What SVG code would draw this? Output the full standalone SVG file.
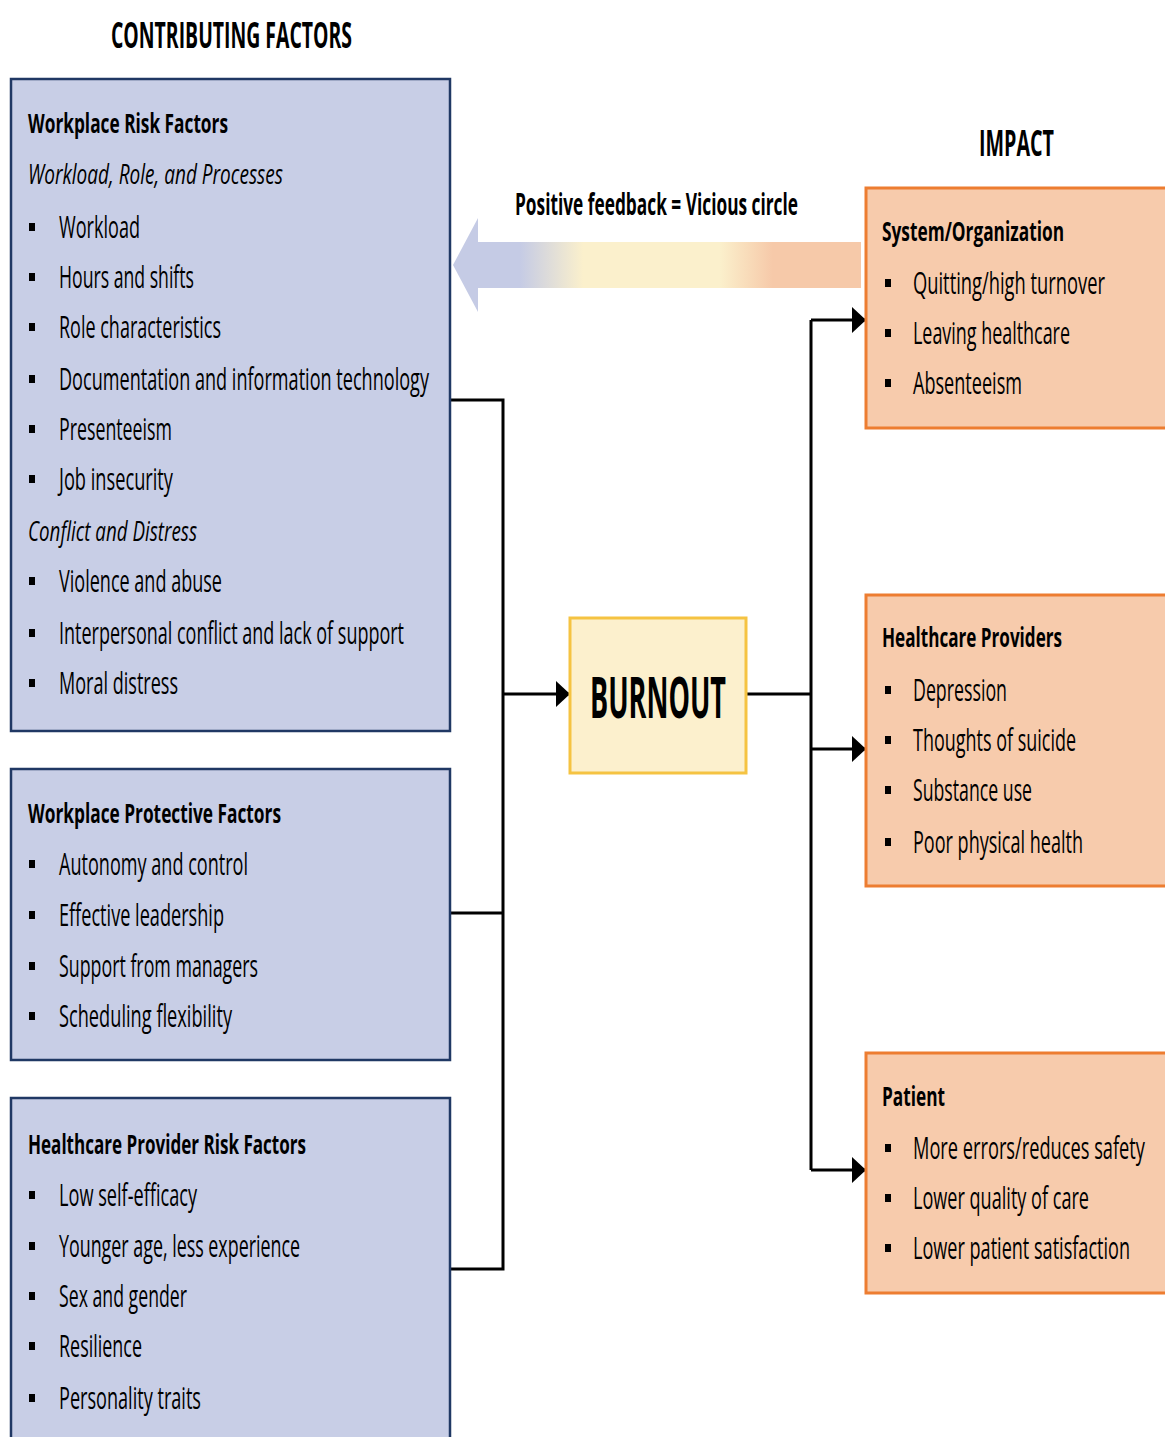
<svg xmlns="http://www.w3.org/2000/svg" width="1165" height="1437" viewBox="0 0 1165 1437">
<style>
text{font-family:"Open Sans","Liberation Sans",sans-serif;fill:#000}
.t{font-size:31px;font-weight:500}
.h{font-size:26px;font-weight:700}
.i{font-size:27px;font-style:italic;font-weight:500}
.big{font-size:35px;font-weight:700}
.lb{fill:#C8CEE6;stroke:#203864;stroke-width:2.5}
.rb{fill:#F7CBAC;stroke:#ED7D31;stroke-width:3}
.bu{fill:#000}
.cn{fill:none;stroke:#000;stroke-width:3}
</style>
<defs>
<marker id="ah" markerUnits="userSpaceOnUse" markerWidth="16" markerHeight="28" refX="14" refY="13" orient="auto">
<path d="M0,0 L14,13 L0,26 Z" fill="#000"/>
</marker>
<linearGradient id="fb" gradientUnits="userSpaceOnUse" x1="453" y1="0" x2="861" y2="0">
<stop offset="0" stop-color="#C5CBE5"/>
<stop offset="0.164" stop-color="#C5CBE5"/>
<stop offset="0.319" stop-color="#FBF0CC"/>
<stop offset="0.654" stop-color="#FBF0CC"/>
<stop offset="0.784" stop-color="#F6C9A9"/>
<stop offset="1" stop-color="#F6C9A9"/>
</linearGradient>
</defs>

<text class="big" x="111" y="48" textLength="241" lengthAdjust="spacingAndGlyphs">CONTRIBUTING FACTORS</text>
<text class="big" x="979" y="156" textLength="75" lengthAdjust="spacingAndGlyphs">IMPACT</text>

<g id="feedback">
<path d="M453,265 L478,218 L478,242 L861,242 L861,288 L478,288 L478,312 Z" fill="url(#fb)"/>
<text x="515" y="215" style="font-size:30px;font-weight:700" textLength="283" lengthAdjust="spacingAndGlyphs">Positive feedback = Vicious circle</text>
</g>

<g id="connectors">
<path class="cn" d="M450,400 H503 V1269 H450"/>
<path class="cn" d="M450,913 H503"/>
<path class="cn" d="M503,694 H570" marker-end="url(#ah)"/>
<path class="cn" d="M746,694 H811"/>
<path class="cn" d="M811,320 V1170"/>
<path class="cn" d="M811,320 H866" marker-end="url(#ah)"/>
<path class="cn" d="M811,749 H866" marker-end="url(#ah)"/>
<path class="cn" d="M811,1170 H866" marker-end="url(#ah)"/>
</g>

<g id="workplace-risk">
<rect class="lb" x="11" y="79" width="439" height="652"/>
<text class="h" x="28" y="133" textLength="200" lengthAdjust="spacingAndGlyphs">Workplace Risk Factors</text>
<text class="i" x="28" y="184" textLength="255" lengthAdjust="spacingAndGlyphs">Workload, Role, and Processes</text>
<rect class="bu" x="29" y="223" width="6" height="8"/>
<text class="t" x="59" y="238" textLength="81" lengthAdjust="spacingAndGlyphs">Workload</text>
<rect class="bu" x="29" y="273" width="6" height="8"/>
<text class="t" x="59" y="288" textLength="135" lengthAdjust="spacingAndGlyphs">Hours and shifts</text>
<rect class="bu" x="29" y="323" width="6" height="8"/>
<text class="t" x="59" y="338" textLength="162" lengthAdjust="spacingAndGlyphs">Role characteristics</text>
<rect class="bu" x="29" y="375" width="6" height="8"/>
<text class="t" x="59" y="390" textLength="370" lengthAdjust="spacingAndGlyphs">Documentation and information technology</text>
<rect class="bu" x="29" y="425" width="6" height="8"/>
<text class="t" x="59" y="440" textLength="113" lengthAdjust="spacingAndGlyphs">Presenteeism</text>
<rect class="bu" x="29" y="475" width="6" height="8"/>
<text class="t" x="59" y="490" textLength="114" lengthAdjust="spacingAndGlyphs">Job insecurity</text>
<text class="i" x="28" y="541" textLength="169" lengthAdjust="spacingAndGlyphs">Conflict and Distress</text>
<rect class="bu" x="29" y="577" width="6" height="8"/>
<text class="t" x="59" y="592" textLength="163" lengthAdjust="spacingAndGlyphs">Violence and abuse</text>
<rect class="bu" x="29" y="629" width="6" height="8"/>
<text class="t" x="59" y="644" textLength="345" lengthAdjust="spacingAndGlyphs">Interpersonal conflict and lack of support</text>
<rect class="bu" x="29" y="679" width="6" height="8"/>
<text class="t" x="59" y="694" textLength="119" lengthAdjust="spacingAndGlyphs">Moral distress</text>
</g>

<g id="workplace-protective">
<rect class="lb" x="11" y="769" width="439" height="291"/>
<text class="h" x="28" y="823" textLength="253" lengthAdjust="spacingAndGlyphs">Workplace Protective Factors</text>
<rect class="bu" x="29" y="860" width="6" height="8"/>
<text class="t" x="59" y="875" textLength="189" lengthAdjust="spacingAndGlyphs">Autonomy and control</text>
<rect class="bu" x="29" y="911" width="6" height="8"/>
<text class="t" x="59" y="926" textLength="165" lengthAdjust="spacingAndGlyphs">Effective leadership</text>
<rect class="bu" x="29" y="962" width="6" height="8"/>
<text class="t" x="59" y="977" textLength="199" lengthAdjust="spacingAndGlyphs">Support from managers</text>
<rect class="bu" x="29" y="1012" width="6" height="8"/>
<text class="t" x="59" y="1027" textLength="173" lengthAdjust="spacingAndGlyphs">Scheduling flexibility</text>
</g>

<g id="provider-risk">
<rect class="lb" x="11" y="1098" width="439" height="350"/>
<text class="h" x="28" y="1154" textLength="278" lengthAdjust="spacingAndGlyphs">Healthcare Provider Risk Factors</text>
<rect class="bu" x="29" y="1191" width="6" height="8"/>
<text class="t" x="59" y="1206" textLength="138" lengthAdjust="spacingAndGlyphs">Low self-efficacy</text>
<rect class="bu" x="29" y="1242" width="6" height="8"/>
<text class="t" x="59" y="1257" textLength="241" lengthAdjust="spacingAndGlyphs">Younger age, less experience</text>
<rect class="bu" x="29" y="1292" width="6" height="8"/>
<text class="t" x="59" y="1307" textLength="128" lengthAdjust="spacingAndGlyphs">Sex and gender</text>
<rect class="bu" x="29" y="1342" width="6" height="8"/>
<text class="t" x="59" y="1357" textLength="83" lengthAdjust="spacingAndGlyphs">Resilience</text>
<rect class="bu" x="29" y="1394" width="6" height="8"/>
<text class="t" x="59" y="1409" textLength="142" lengthAdjust="spacingAndGlyphs">Personality traits</text>
</g>

<g id="burnout">
<rect x="570" y="618" width="176" height="155" fill="#FCF0CD" stroke="#F5C342" stroke-width="3"/>
<text x="590" y="718" style="font-size:58px;font-weight:700" textLength="136" lengthAdjust="spacingAndGlyphs">BURNOUT</text>
</g>

<g id="system-organization">
<rect class="rb" x="866" y="188" width="301" height="240"/>
<text class="h" x="882" y="241" textLength="182" lengthAdjust="spacingAndGlyphs">System/Organization</text>
<rect class="bu" x="885" y="279" width="6" height="8"/>
<text class="t" x="913" y="294" textLength="192" lengthAdjust="spacingAndGlyphs">Quitting/high turnover</text>
<rect class="bu" x="885" y="329" width="6" height="8"/>
<text class="t" x="913" y="344" textLength="157" lengthAdjust="spacingAndGlyphs">Leaving healthcare</text>
<rect class="bu" x="885" y="379" width="6" height="8"/>
<text class="t" x="913" y="394" textLength="109" lengthAdjust="spacingAndGlyphs">Absenteeism</text>
</g>

<g id="healthcare-providers">
<rect class="rb" x="866" y="595" width="301" height="291"/>
<text class="h" x="882" y="647" textLength="180" lengthAdjust="spacingAndGlyphs">Healthcare Providers</text>
<rect class="bu" x="885" y="686" width="6" height="8"/>
<text class="t" x="913" y="701" textLength="94" lengthAdjust="spacingAndGlyphs">Depression</text>
<rect class="bu" x="885" y="736" width="6" height="8"/>
<text class="t" x="913" y="751" textLength="163" lengthAdjust="spacingAndGlyphs">Thoughts of suicide</text>
<rect class="bu" x="885" y="786" width="6" height="8"/>
<text class="t" x="913" y="801" textLength="119" lengthAdjust="spacingAndGlyphs">Substance use</text>
<rect class="bu" x="885" y="838" width="6" height="8"/>
<text class="t" x="913" y="853" textLength="170" lengthAdjust="spacingAndGlyphs">Poor physical health</text>
</g>

<g id="patient">
<rect class="rb" x="866" y="1053" width="301" height="240"/>
<text class="h" x="882" y="1106" textLength="63" lengthAdjust="spacingAndGlyphs">Patient</text>
<rect class="bu" x="885" y="1144" width="6" height="8"/>
<text class="t" x="913" y="1159" textLength="232" lengthAdjust="spacingAndGlyphs">More errors/reduces safety</text>
<rect class="bu" x="885" y="1194" width="6" height="8"/>
<text class="t" x="913" y="1209" textLength="176" lengthAdjust="spacingAndGlyphs">Lower quality of care</text>
<rect class="bu" x="885" y="1244" width="6" height="8"/>
<text class="t" x="913" y="1259" textLength="217" lengthAdjust="spacingAndGlyphs">Lower patient satisfaction</text>
</g>
</svg>
